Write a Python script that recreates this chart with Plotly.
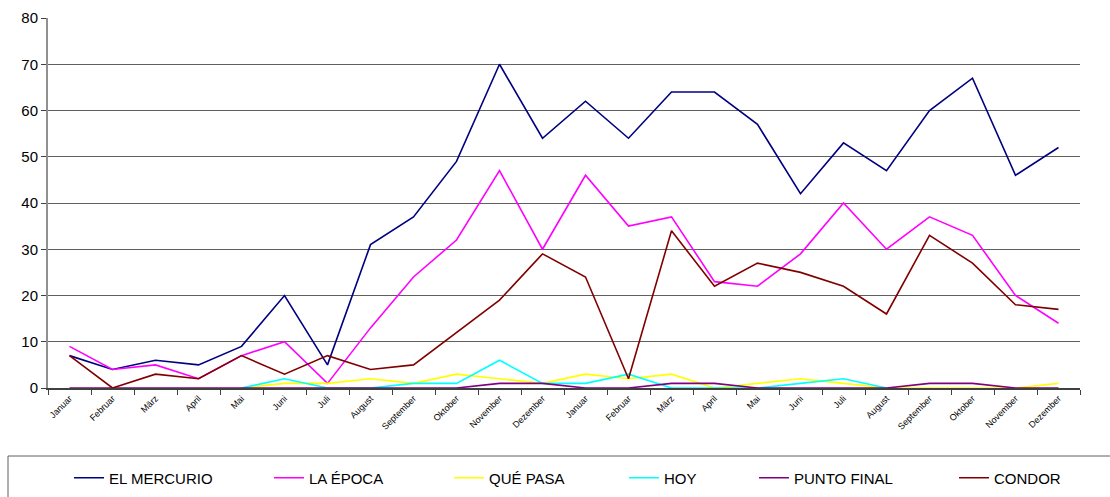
import plotly.graph_objects as go

months = ["Januar", "Februar", "März", "April", "Mai", "Juni", "Juli", "August",
          "September", "Oktober", "November", "Dezember"]
categories = months + months

el_mercurio = [7, 4, 6, 5, 9, 20, 5, 31, 37, 49, 70, 54,
               62, 54, 64, 64, 57, 42, 53, 47, 60, 67, 46, 52]
la_epoca = [9, 4, 5, 2, 7, 10, 1, 13, 24, 32, 47, 30,
            46, 35, 37, 23, 22, 29, 40, 30, 37, 33, 20, 14]
que_pasa = [None, None, None, None, 0, 1, 1, 2, 1, 3, 2, 1,
            3, 2, 3, 0, 1, 2, 1, 0, 0, 0, 0, 1]
hoy = [None, None, None, None, 0, 2, 0, 0, 1, 1, 6, 1,
       1, 3, 0, 0, 0, 1, 2, 0, None, None, None, None]
punto_final = [0, 0, 0, 0, 0, 0, 0, 0, 0, 0, 1, 1,
               0, 0, 1, 1, 0, 0, 0, 0, 1, 1, 0, 0]
condor = [7, 0, 3, 2, 7, 3, 7, 4, 5, 12, 19, 29,
          24, 2, 34, 22, 27, 25, 22, 16, 33, 27, 18, 17]

series = [
    ("EL MERCURIO", el_mercurio, "#000080"),
    ("LA ÉPOCA", la_epoca, "#ff00ff"),
    ("QUÉ PASA", que_pasa, "#ffff00"),
    ("HOY", hoy, "#00ffff"),
    ("PUNTO FINAL", punto_final, "#800080"),
    ("CONDOR", condor, "#800000"),
]

# legend line start positions (pixels)
legend_px = [75, 275, 455, 630, 760, 960]

W, H = 1110, 497
ml, mr, mt, mb = 48, 30, 18, 109
pw = W - ml - mr
ph = H - mt - mb

x = list(range(len(categories)))

fig = go.Figure()
for i, (name, vals, col) in enumerate(series):
    lg = "legend" if i == 0 else "legend%d" % (i + 1)
    fig.add_trace(go.Scatter(x=x, y=vals, mode="lines", name=name,
                             line=dict(color=col, width=1.6),
                             legend=lg))

legends = {}
for i, px in enumerate(legend_px):
    key = "legend" if i == 0 else "legend%d" % (i + 1)
    legends[key] = dict(
        x=(px - ml - 6) / pw, xanchor="left",
        y=(mt + ph - 478) / ph, yanchor="middle",
        orientation="h", bgcolor="rgba(0,0,0,0)",
        font=dict(family="Liberation Sans, Arial", size=15, color="#000"),
        itemwidth=30, tracegroupgap=0,
    )

fig.update_layout(
    width=W, height=H,
    margin=dict(l=ml, r=mr, t=mt, b=mb, autoexpand=False),
    paper_bgcolor="white", plot_bgcolor="white",
    font=dict(family="Liberation Sans, Arial", color="#000"),
    showlegend=True,
    **legends,
    xaxis=dict(
        range=[-0.5, len(categories) - 0.5],
        tickmode="array", tickvals=x, ticktext=categories,
        tickangle=-45, tickfont=dict(size=9),
        ticks="", showgrid=False, zeroline=False, automargin=False,
        showline=True, linecolor="#404040", linewidth=1.5,
        minor=dict(ticks="outside", tick0=-0.5, dtick=1, ticklen=5,
                   tickcolor="#404040", showgrid=False),
    ),
    yaxis=dict(
        range=[0, 80], dtick=10, tickfont=dict(size=15),
        showgrid=True, gridcolor="#606060", gridwidth=1, automargin=False,
        zeroline=False, showline=True, linecolor="#909090", linewidth=2,
        ticks="outside", ticklen=5, tickcolor="#404040",
    ),
    shapes=[dict(type="rect", xref="paper", yref="paper",
                 x0=(8 - ml) / pw, x1=(W + 5 - ml) / pw,
                 y0=(mt + ph - 456) / ph, y1=(mt + ph - 505) / ph,
                 line=dict(color="#606060", width=1), fillcolor="rgba(0,0,0,0)")],
)

# the page has a default body margin; remove it so the chart sits at 0,0
fig.write_html("out.html", config={"displayModeBar": False},
               post_script="document.body.style.margin='0';")
